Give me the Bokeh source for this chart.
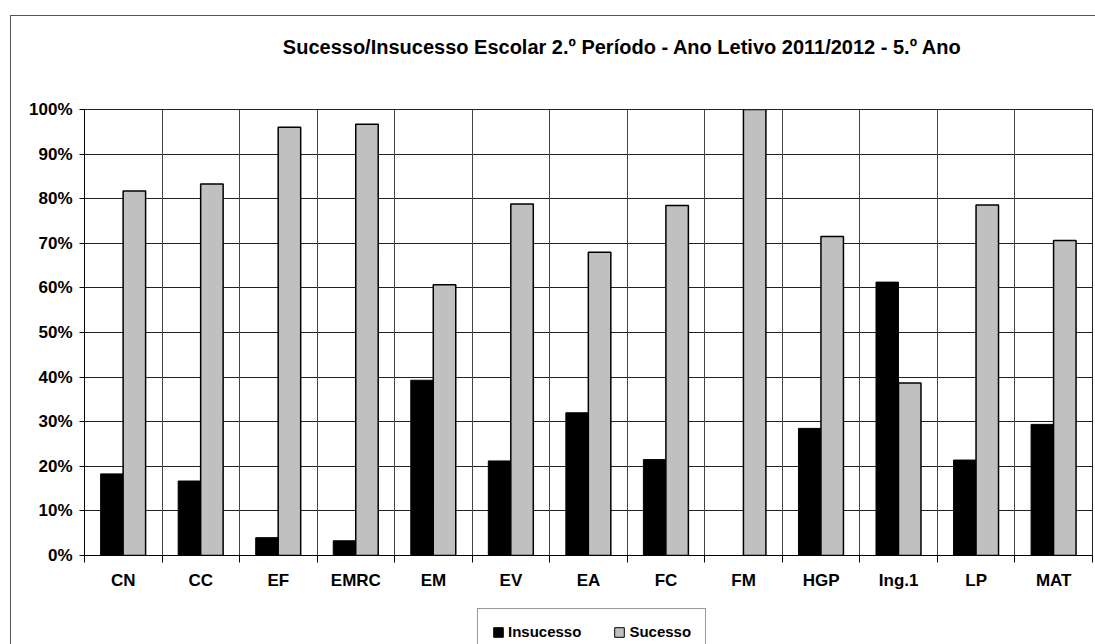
from bokeh.plotting import figure
from bokeh.layouts import column
from bokeh.models import (ColumnDataSource, FactorRange, Range1d, LinearAxis, FixedTicker,
                          Grid, PrintfTickFormatter, Legend, LegendItem, Label)
from bokeh.transform import dodge
from bokeh.embed import file_html
from bokeh.resources import INLINE

# ---- data ----
categories = ["CN", "CC", "EF", "EMRC", "EM", "EV", "EA", "FC", "FM", "HGP", "Ing.1", "LP", "MAT"]
insucesso = [18.3, 16.7, 4.0, 3.3, 39.3, 21.2, 32.0, 21.5, 0.0, 28.5, 61.3, 21.4, 29.4]
sucesso = [81.7, 83.3, 96.0, 96.7, 60.7, 78.8, 68.0, 78.5, 100.0, 71.5, 38.7, 78.6, 70.6]
series_names = ["Insucesso", "Sucesso"]
series_colors = ["black", "#C0C0C0"]
y_ticks = [0, 10, 20, 30, 40, 50, 60, 70, 80, 90, 100]
title_text = "Sucesso/Insucesso Escolar 2.º Período - Ano Letivo 2011/2012 - 5.º Ano"

FONT = "Liberation Sans"
W = 1084
BL, BR = 73, 3          # left / right borders shared by all stacked figures
FW = W - BL - BR        # frame width

src = ColumnDataSource(dict(cat=categories, ins=insucesso, suc=sucesso))

# ---------- header (title) ----------
HEAD_H = 81
head = figure(width=W, height=HEAD_H, x_range=Range1d(0, FW), y_range=Range1d(0, HEAD_H),
              x_axis_type=None, y_axis_type=None, output_backend="svg",
              toolbar_location=None, min_border_left=BL, min_border_right=BR,
              min_border_top=0, min_border_bottom=0)
head.outline_line_color = None
head.add_layout(Label(x=538, y=HEAD_H - 30, text=title_text,
                      text_align="center", text_baseline="middle",
                      text_font=FONT, text_font_style="bold", text_font_size="20px",
                      text_color="black"))

# ---------- main chart ----------
p = figure(width=W, height=498,
           x_range=FactorRange(factors=categories, range_padding=0),
           y_range=Range1d(0, 100),
           x_axis_type=None,
           output_backend="svg", toolbar_location=None,
           min_border_left=BL, min_border_right=BR, min_border_top=12, min_border_bottom=40)
p.outline_line_color = "#222"
p.outline_line_width = 1

ya = p.yaxis[0]
ya.ticker = FixedTicker(ticks=y_ticks)
ya.formatter = PrintfTickFormatter(format="%d%%")
ya.major_label_text_font = FONT
ya.major_label_text_font_style = "bold"
ya.major_label_text_font_size = "17px"
ya.major_label_text_color = "black"
ya.axis_line_color = "black"
ya.major_tick_line_color = "black"
ya.major_tick_out = 5
ya.major_tick_in = 0
ya.minor_tick_line_color = None
ya.major_label_standoff = 7

p.ygrid.ticker = FixedTicker(ticks=y_ticks)
p.ygrid.grid_line_color = "#222"
p.ygrid.grid_line_width = 1

n = len(categories)
centers = [i + 0.5 for i in range(n)]
bounds = [float(i) for i in range(n + 1)]
xa = LinearAxis(ticker=FixedTicker(ticks=centers, minor_ticks=bounds),
                major_label_overrides={c: k for c, k in zip(centers, categories)},
                major_tick_line_color=None, major_tick_out=0, major_tick_in=0,
                minor_tick_line_color="black", minor_tick_out=7, minor_tick_in=0,
                axis_line_color="black",
                major_label_text_font=FONT, major_label_text_font_style="bold",
                major_label_text_font_size="17px", major_label_text_color="black",
                major_label_standoff=8)
p.add_layout(xa, "below")
p.add_layout(Grid(dimension=0, ticker=FixedTicker(ticks=bounds[1:-1]),
                  grid_line_color="#444", grid_line_width=1))

bw = 0.29
p.vbar(x=dodge("cat", -0.147, range=p.x_range), top="ins", width=bw, source=src,
       fill_color=series_colors[0], line_color="black", line_width=1)
p.vbar(x=dodge("cat", 0.143, range=p.x_range), top="suc", width=bw, source=src,
       fill_color=series_colors[1], line_color="black", line_width=1.5)

# ---------- legend strip ----------
# the same series drawn squeezed (wide x padding) and out of y-range, hidden behind the legend box
LEG_H = 49
leg = figure(width=W, height=LEG_H,
             x_range=FactorRange(factors=categories, range_padding=200,
                                 range_padding_units="absolute"),
             y_range=Range1d(200, 210),
             x_axis_type=None, y_axis_type=None, output_backend="svg",
             toolbar_location=None, min_border_left=BL, min_border_right=BR,
             min_border_top=0, min_border_bottom=0)
leg.outline_line_color = None
lr1 = leg.vbar(x=dodge("cat", -0.147, range=leg.x_range), top="ins", width=bw, source=src,
               fill_color=series_colors[0], line_color="black", line_width=1)
lr2 = leg.vbar(x=dodge("cat", 0.143, range=leg.x_range), top="suc", width=bw, source=src,
               fill_color=series_colors[1], line_color="black", line_width=1)
legend = Legend(items=[LegendItem(label=series_names[0], renderers=[lr1]),
                       LegendItem(label=series_names[1], renderers=[lr2])],
                orientation="horizontal", location=(393, -11),
                glyph_width=12, glyph_height=12, label_standoff=4, spacing=32,
                padding=14, margin=0, label_height=12,
                border_line_color="#333", border_line_width=1,
                background_fill_color="white", background_fill_alpha=1,
                label_text_font=FONT, label_text_font_style="bold",
                label_text_font_size="15px", label_text_color="black")
leg.add_layout(legend, "center")

layout = column(head, p, leg, spacing=0)
layout.styles = {"border-top": "1px solid #555", "border-left": "1px solid #555",
                 "margin-left": "10px", "margin-top": "15px"}

open("out.html", "w").write(file_html(layout, INLINE))
